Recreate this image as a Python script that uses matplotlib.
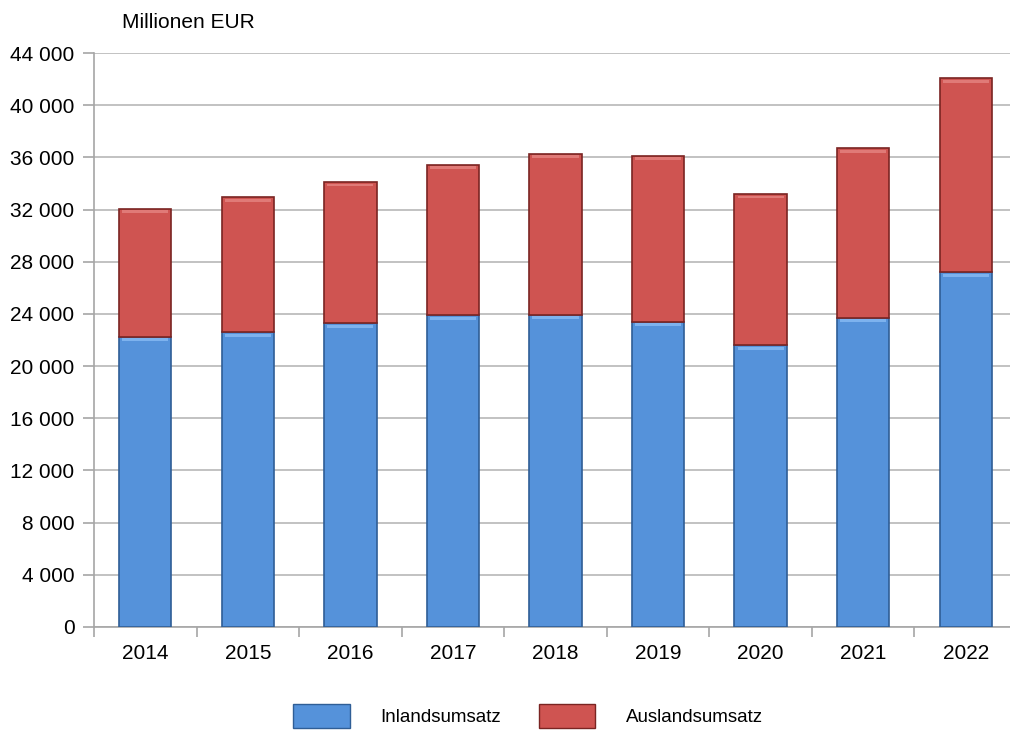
import matplotlib
matplotlib.use("Agg")
import matplotlib.pyplot as plt
from matplotlib.patches import Patch
import numpy as np

years = ["2014", "2015", "2016", "2017", "2018", "2019", "2020", "2021", "2022"]
inland = [22250, 22580, 23270, 23880, 23920, 23400, 21600, 23700, 27180]
total = [32050, 32930, 34100, 35430, 36270, 36120, 33180, 36680, 42050]
ausland = [t - i for t, i in zip(total, inland)]
yticks = list(range(0, 44001, 4000))
ytick_labels = [f"{v:,}".replace(",", " ") for v in yticks]

plt.rcParams['font.family'] = ['Liberation Sans', 'DejaVu Sans']

W, H = 1010, 731
fig = plt.figure(figsize=(W / 100, H / 100), dpi=100)
ax = fig.add_axes([94 / W, (H - 627) / H, (1017 - 94) / W, (627 - 53) / H])

x = np.arange(len(years))
blue = "#5592DA"
blue_edge = "#2F5E96"
red = "#CF5451"
red_edge = "#7A2422"
bw = 0.51
ax.bar(x, inland, width=bw, color=blue, edgecolor=blue_edge, linewidth=1.2, zorder=3)
ax.bar(x, ausland, bottom=inland, width=bw, color=red, edgecolor=red_edge, linewidth=1.2, zorder=3)
# subtle highlight at top of each segment
ax.bar(x, [220] * len(x), bottom=[i - 330 for i in inland], width=bw * 0.88, color="#7DB2EE", linewidth=0, zorder=4)
ax.bar(x, [220] * len(x), bottom=[t - 330 for t in total], width=bw * 0.88, color="#E07A77", linewidth=0, zorder=4)

ax.set_xlim(-0.5, len(years) - 0.5)
ax.set_ylim(0, 44000)
ax.set_yticks(yticks)
ax.set_yticklabels(ytick_labels, fontsize=15)
ax.set_xticks(x)
ax.set_xticklabels(years, fontsize=15)
ax.set_xticks(np.arange(-0.5, len(years), 1.0), minor=True)
ax.tick_params(axis='x', which='major', length=0, pad=12)
ax.tick_params(axis='x', which='minor', length=7, color="#A6A6A6", width=1.2)
ax.tick_params(axis='y', length=8, color="#A6A6A6", width=1.2, pad=6)

ax.grid(axis='y', color="#BDBDBD", linewidth=1.3, zorder=0)
ax.set_axisbelow(True)
for s in ["top", "right"]:
    ax.spines[s].set_visible(False)
for s in ["left", "bottom"]:
    ax.spines[s].set_color("#A6A6A6")
    ax.spines[s].set_linewidth(1.2)

fig.text(122 / W, 1 - 22 / H, "Millionen EUR", fontsize=15, va="center", ha="left")

handles = [Patch(facecolor=blue, edgecolor=blue_edge, label="Inlandsumsatz"),
           Patch(facecolor=red, edgecolor=red_edge, label="Auslandsumsatz")]
fig.legend(handles=handles, loc="center", bbox_to_anchor=(528 / W, 1 - 716 / H),
           ncol=2, frameon=False, fontsize=13.5, handlelength=3.0, handleheight=1.6,
           handletextpad=1.65, columnspacing=2.0, borderpad=0)

fig.savefig("out.png", dpi=100)
